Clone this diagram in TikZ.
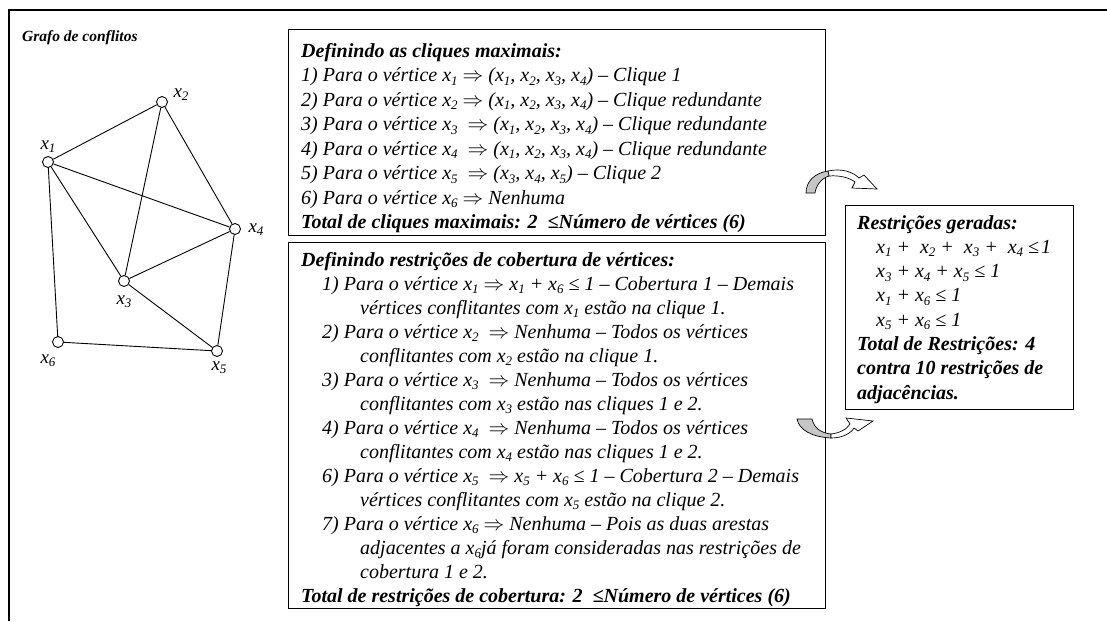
\documentclass[tikz,border=0pt]{standalone}
\usepackage{fontspec}
\setmainfont{Liberation Serif}
\newcommand\sbs[1]{\raisebox{-0.17em}{\fontsize{13}{13}\selectfont #1}}
\newcommand\xv[1]{x\sbs{#1}}
\newcommand\imp{$\Rightarrow$}
\newcommand\numind{\hspace*{21pt}}
\newcommand\contind{\hspace*{59pt}}
\tikzset{
  frame/.style={line width=1.3pt},
  box/.style={draw, line width=1.1pt, anchor=north west, inner sep=0pt},
  txt/.style={anchor=north west, inner sep=0pt, align=left},
  vtx/.style={circle, draw, line width=0.9pt, fill=white, minimum size=11pt, inner sep=0pt},
  vlab/.style={font=\fontsize{19}{19}\selectfont\itshape, inner sep=0pt},
  edge/.style={line width=0.9pt},
  heading/.style={font=\fontsize{15.5}{16}\selectfont\bfseries\itshape, anchor=west, inner sep=0pt},
  grayband/.style={fill=gray!45, draw=black, line width=0.7pt},
  whiteband/.style={fill=white, draw=black, line width=0.7pt},
}
\begin{document}
\begin{tikzpicture}[x=1pt,y=-1pt]
\useasboundingbox (0,0) rectangle (1107,621);
\fill[white] (0,0) rectangle (1107,621);
% outer frame
\draw[frame] (9,621) -- (9,10) -- (1107,10);
\node[heading] (title) at (22,38) {Grafo de conflitos};
% graph
\node[vtx] (v1) at (48,162) {};
\node[vtx] (v2) at (162,102) {};
\node[vtx] (v3) at (124,281) {};
\node[vtx] (v4) at (235,229) {};
\node[vtx] (v5) at (217,351) {};
\node[vtx] (v6) at (58,342) {};
\draw[edge] (v1) -- (v2);
\draw[edge] (v1) -- (v4);
\draw[edge] (v1) -- (v3);
\draw[edge] (v1) -- (v6);
\draw[edge] (v2) -- (v3);
\draw[edge] (v2) -- (v4);
\draw[edge] (v3) -- (v4);
\draw[edge] (v3) -- (v5);
\draw[edge] (v4) -- (v5);
\draw[edge] (v6) -- (v5);
\node[vlab] (l1) at (48,147) {\xv{1}};
\node[vlab] (l2) at (181,95) {\xv{2}};
\node[vlab] (l3) at (124,302) {\xv{3}};
\node[vlab] (l4) at (256,230) {\xv{4}};
\node[vlab] (l5) at (219,368) {\xv{5}};
\node[vlab] (l6) at (48,361) {\xv{6}};
% boxes
\node[box, minimum width=537pt, minimum height=206pt] (b1) at (288,29) {};
\node[box, minimum width=537pt, minimum height=366pt] (b2) at (288,242) {};
\node[box, minimum width=228pt, minimum height=204pt] (b3) at (845,205) {};
% box 1 text
\node[txt, font=\fontsize{20}{24.5}\selectfont\itshape] (t1) at (301,43) {%
{\bfseries Definindo as cliques maximais:}\\
1) Para o vértice \xv{1} \imp{} (\xv{1}, \xv{2}, \xv{3}, \xv{4}) – Clique 1\\
2) Para o vértice \xv{2} \imp{} (\xv{1}, \xv{2}, \xv{3}, \xv{4}) – Clique redundante\\
3) Para o vértice \xv{3} \ \imp{} (\xv{1}, \xv{2}, \xv{3}, \xv{4}) – Clique redundante\\
4) Para o vértice \xv{4} \ \imp{} (\xv{1}, \xv{2}, \xv{3}, \xv{4}) – Clique redundante\\
5) Para o vértice \xv{5} \ \imp{} (\xv{3}, \xv{4}, \xv{5}) – Clique 2\\
6) Para o vértice \xv{6} \imp{} Nenhuma\\
{\bfseries Total de cliques maximais: 2 \ ≤Número de vértices (6)}};
% box 2 text
\node[txt, font=\fontsize{20}{24}\selectfont\itshape] (t2) at (301,252) {%
{\bfseries Definindo restrições de cobertura de vértices:}\\
\numind 1) Para o vértice \xv{1} \imp{} \xv{1} + \xv{6} ≤ 1 – Cobertura 1 – Demais\\
\contind vértices conflitantes com \xv{1} estão na clique 1.\\
\numind 2) Para o vértice \xv{2} \ \imp{} Nenhuma – Todos os vértices\\
\contind conflitantes com \xv{2} estão na clique 1.\\
\numind 3) Para o vértice \xv{3} \ \imp{} Nenhuma – Todos os vértices\\
\contind conflitantes com \xv{3} estão nas cliques 1 e 2.\\
\numind 4) Para o vértice \xv{4} \ \imp{} Nenhuma – Todos os vértices\\
\contind conflitantes com \xv{4} estão nas cliques 1 e 2.\\
\numind 6) Para o vértice \xv{5} \ \imp{} \xv{5} + \xv{6} ≤ 1 – Cobertura 2 – Demais\\
\contind vértices conflitantes com \xv{5} estão na clique 2.\\
\numind 7) Para o vértice \xv{6} \imp{} Nenhuma – Pois as duas arestas\\
\contind adjacentes a \xv{6}já foram consideradas nas restrições de\\
\contind cobertura 1 e 2.\\
{\bfseries Total de restrições de cobertura: 2 \ ≤Número de vértices (6)}};
% box 3 text
\node[txt, font=\fontsize{20}{24.3}\selectfont\itshape] (t3) at (857,215) {%
{\bfseries Restrições geradas:}\\
\hspace*{19pt}\xv{1} + \hspace{5pt}\xv{2} + \hspace{5pt}\xv{3} + \hspace{5pt}\xv{4} ≤\hspace{2pt}1\\
\hspace*{19pt}\xv{3} + \xv{4} + \xv{5} ≤ 1\\
\hspace*{19pt}\xv{1} + \xv{6} ≤ 1\\
\hspace*{19pt}\xv{5} + \xv{6} ≤ 1\\
{\bfseries Total de Restrições: 4}\\
{\bfseries contra 10 restrições de}\\
{\bfseries adjacências.}};
% curved arrow (top): box 1 -> box 3
\filldraw[grayband] (806,193) .. controls (806,181) and (815,173) .. (828,171)
  -- (829,176) .. controls (822,178) and (816,185) .. (815,193) -- cycle;
\filldraw[whiteband] (828,171) .. controls (842,168) and (853,172) .. (859,178)
  -- (864,175) -- (877,189) -- (852,188) -- (855,182)
  .. controls (850,178) and (840,175) .. (829,176) -- cycle;
% curved arrow (bottom): box 2 -> box 3
\filldraw[grayband] (797,419) -- (812,419) .. controls (814,428) and (821,433) .. (831,434)
  -- (831,438) .. controls (812,437) and (799,430) .. (797,419) -- cycle;
\filldraw[whiteband] (831,438) .. controls (843,438) and (851,433) .. (854,428)
  -- (858,431) -- (873,421) -- (846,418) -- (850,424)
  .. controls (847,429) and (840,433) .. (831,434) -- cycle;
\end{tikzpicture}
\end{document}
